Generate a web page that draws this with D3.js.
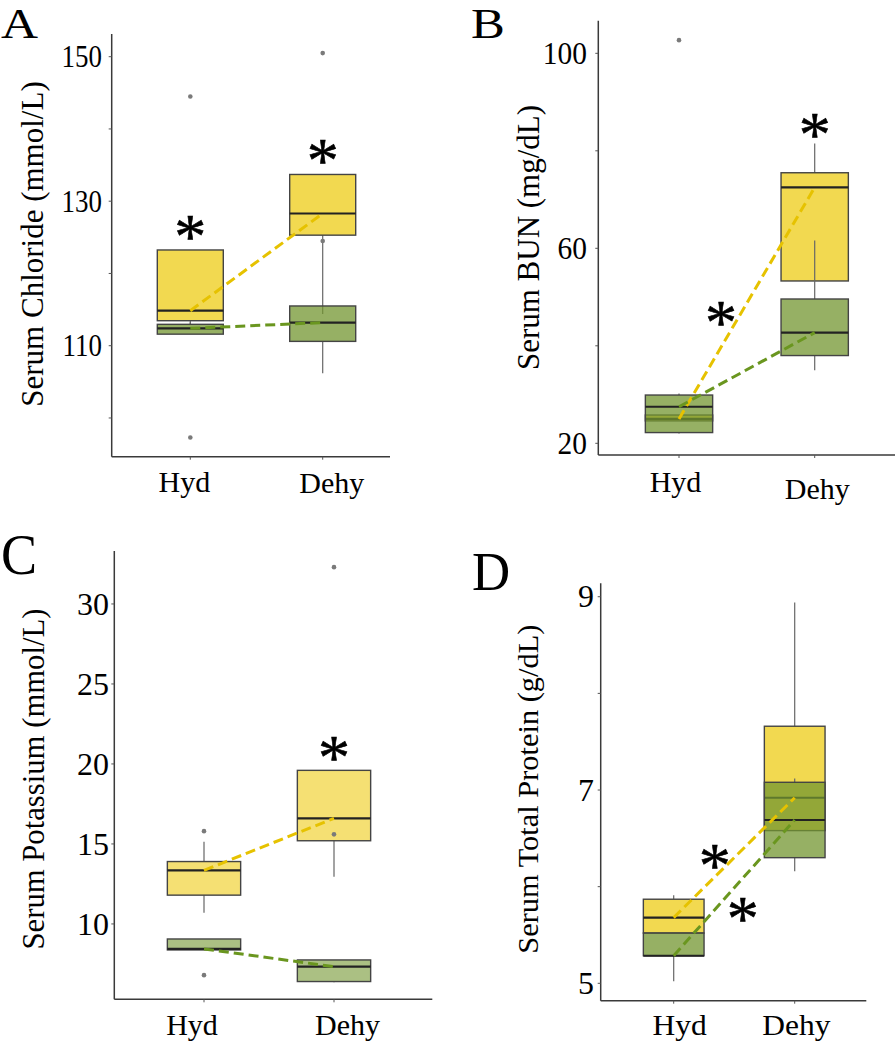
<!DOCTYPE html>
<html><head><meta charset="utf-8">
<script src="https://cdn.jsdelivr.net/npm/d3@7"></script>
<style>
body{margin:0;background:#fff}
svg{display:block}
text{font-family:"Liberation Serif","Times New Roman",serif;fill:#000}
</style>
</head><body>
<svg id="chart" width="896" height="1050"></svg>
<script>
const groups = ["Hyd", "Dehy"];

// ---- Panel A: Serum Chloride (mmol/L) ---- stats: [lo, q1, median, q3, hi]
const chlorideTicks = [100, 110, 120, 130, 140, 150];
const chlorideTickLabels = [110, 130, 150];
const chlorideYellow = [[113.0, 113.46, 114.85, 123.25, 123.25], [114.4, 125.3, 128.3, 133.7, 133.7]];
const chlorideGreen  = [[111.6, 111.6, 112.4, 112.96, 113.2], [106.2, 110.6, 113.2, 115.5, 115.5]];
const chlorideOutliers = [["Hyd", 144.5], ["Hyd", 97.3], ["Dehy", 150.5], ["Dehy", 124.5]];
const chlorideStars = [[0, 126.5], [1, 137.1]];

// ---- Panel B: Serum BUN (mg/dL) ----
const bunTicks = [20, 40, 60, 80, 100];
const bunTickLabels = [20, 60, 100];
const bunYellow = [[24.6, 24.6, 25.0, 25.8, 25.8], [53.3, 53.3, 72.5, 75.5, 81.5]];
const bunGreen  = [[22.0, 22.2, 27.5, 29.9, 30.2], [35.0, 38.0, 42.7, 49.6, 61.6]];
const bunOutliers = [["Hyd", 102.7]];
const bunStars = [[0.31, 47.0], [1, 85.6]];

// ---- Panel C: Serum Potassium (mmol/L) ----
const potassiumTicks = [10, 15, 20, 25, 30];
const potassiumTickLabels = [10, 15, 20, 25, 30];
const potassiumYellow = [[10.7, 11.8, 13.35, 13.9, 15.13], [12.95, 15.2, 16.6, 19.6, 19.6]];
const potassiumGreen  = [[8.375, 8.375, 8.44, 9.06, 9.06], [6.35, 6.4, 7.33, 7.75, 7.75]];
const potassiumOutliers = [["Hyd", 15.8], ["Hyd", 6.8], ["Dehy", 32.3], ["Dehy", 15.6]];
const potassiumStars = [[1, 21.08]];

// ---- Panel D: Serum Total Protein (g/dL) ----
const proteinTicks = [5, 6, 7, 8, 9];
const proteinTickLabels = [5, 7, 9];
const proteinYellow = [[5.52, 5.52, 5.68, 5.87, 5.91], [6.58, 6.58, 6.92, 7.66, 8.94]];
const proteinGreen  = [[5.02, 5.285, 5.285, 5.52, 5.52], [6.16, 6.30, 6.69, 7.08, 7.12]];
const proteinOutliers = [];
const proteinStars = [[0.34, 6.33], [0.57, 5.78]];

const YELLOW = "#EECC16", GREEN = "#739630";
const YLINE = "#E6C200", GLINE = "#6A961F";

const svg = d3.select("#chart");

function stext(g, x, y, str, fs, sx, anchor, rot) {
  return g.append("text")
    .attr("transform", `translate(${x},${y})` + (rot ? ` rotate(${rot})` : "") + ` scale(${sx},1)`)
    .attr("text-anchor", anchor)
    .style("font-size", fs + "px")
    .text(str);
}

function panel(cfg, d) {
  const g = svg.append("g");
  const y = d3.scaleLinear().domain(cfg.domain).range([cfg.bottom, cfg.top]);
  const x = d3.scalePoint().domain(groups).range([cfg.xHyd, cfg.xDehy]);
  const xi = d3.scaleLinear().domain([0, 1]).range([cfg.xHyd, cfg.xDehy]);
  const bw = cfg.boxW;

  // axes lines
  g.append("line").attr("x1", cfg.left).attr("x2", cfg.left).attr("y1", cfg.top).attr("y2", cfg.bottom)
    .attr("stroke", "#3a3a3a").attr("stroke-width", 1.5);
  g.append("line").attr("x1", cfg.left).attr("x2", cfg.right).attr("y1", cfg.bottom).attr("y2", cfg.bottom)
    .attr("stroke", "#3a3a3a").attr("stroke-width", 1.5);
  // y ticks
  d.ticks.forEach(t => {
    g.append("line").attr("x1", cfg.left - 3).attr("x2", cfg.left).attr("y1", y(t)).attr("y2", y(t))
      .attr("stroke", "#555").attr("stroke-width", 1);
  });
  d.tickLabels.forEach(t => {
    stext(g, cfg.tickRight, y(t) + 0.345 * cfg.tickFs, String(t), cfg.tickFs, cfg.tickSx, "end");
  });
  // x ticks
  groups.forEach(c => {
    g.append("line").attr("x1", x(c)).attr("x2", x(c)).attr("y1", cfg.bottom).attr("y2", cfg.bottom + 3)
      .attr("stroke", "#555").attr("stroke-width", 1);
  });
  groups.forEach((c, i) => {
    stext(g, x(c) + cfg.xlabDx[i], cfg.xlabY[i], c, cfg.xlabFs, cfg.xlabSx, "middle");
  });
  // y title
  stext(g, cfg.titleX, cfg.titleY, cfg.title, cfg.titleFs, 1, "middle", -90);
  // panel letter
  stext(g, cfg.letterX, cfg.letterY, cfg.letter, cfg.letterFs, cfg.letterSx, "start");

  // boxes
  function drawBoxes(stats, color) {
    stats.forEach((s, i) => {
      const cx = x(groups[i]);
      const [lo, q1, med, q3, hi] = s;
      g.append("line").attr("x1", cx).attr("x2", cx).attr("y1", y(lo)).attr("y2", y(q1))
        .attr("stroke", "#666").attr("stroke-width", 1.2);
      g.append("line").attr("x1", cx).attr("x2", cx).attr("y1", y(q3)).attr("y2", y(hi))
        .attr("stroke", "#666").attr("stroke-width", 1.2);
      g.append("rect").attr("x", cx - bw / 2).attr("width", bw)
        .attr("y", y(q3)).attr("height", Math.max(0.5, y(q1) - y(q3)))
        .attr("fill", color).attr("fill-opacity", cfg.alpha)
        .attr("stroke", "#444").attr("stroke-width", 1.4);
      g.append("line").attr("x1", cx - bw / 2).attr("x2", cx + bw / 2).attr("y1", y(med)).attr("y2", y(med))
        .attr("stroke", "#222").attr("stroke-width", 2.2);
    });
  }
  drawBoxes(d.yellow, YELLOW);
  drawBoxes(d.green, GREEN);

  // outliers
  d.outliers.forEach(o => {
    g.append("circle").attr("cx", x(o[0])).attr("cy", y(o[1])).attr("r", 2.3).attr("fill", "#7a7a7a");
  });

  // dashed median lines
  const line = d3.line().x((v, i) => x(groups[i])).y(v => y(v));
  g.append("path").attr("d", line(d.yellow.map(s => s[2]))).attr("fill", "none")
    .attr("stroke", YLINE).attr("stroke-width", 3).attr("stroke-dasharray", "10,5");
  g.append("path").attr("d", line(d.green.map(s => s[2]))).attr("fill", "none")
    .attr("stroke", GLINE).attr("stroke-width", 3).attr("stroke-dasharray", "10,5");

  // significance stars
  d.stars.forEach(s => {
    g.append("text").attr("x", xi(s[0])).attr("y", y(s[1]) + 0.5 * cfg.starFs)
      .attr("text-anchor", "middle").style("font-size", cfg.starFs + "px")
      .style("stroke", "#000").style("stroke-width", 0.6).text("*");
  });
}

panel({
  left: 111.7, right: 390, top: 34, bottom: 456.7, xHyd: 190.3, xDehy: 322.7, domain: [94.64, 153.14], boxW: 66,
  alpha: 0.75, tickRight: 102, tickFs: 30.6, tickSx: 0.88,
  xlabDx: [-6, 9], xlabY: [491.7, 492.7], xlabFs: 30, xlabSx: 1,
  title: "Serum Chloride (mmol/L)", titleX: 43, titleY: 244, titleFs: 31,
  letter: "A", letterX: 1, letterY: 37.7, letterFs: 42, letterSx: 1.22, starFs: 64
}, { ticks: chlorideTicks, tickLabels: chlorideTickLabels, yellow: chlorideYellow, green: chlorideGreen,
     outliers: chlorideOutliers, stars: chlorideStars });

panel({
  left: 598.3, right: 895, top: 20.7, bottom: 455, xHyd: 679, xDehy: 814.7, domain: [17.6, 106.69], boxW: 67.3,
  alpha: 0.75, tickRight: 587, tickFs: 32, tickSx: 0.92,
  xlabDx: [-3.5, 2.5], xlabY: [491.7, 498.5], xlabFs: 30, xlabSx: 1,
  title: "Serum BUN (mg/dL)", titleX: 538.6, titleY: 237.5, titleFs: 31,
  letter: "B", letterX: 471, letterY: 38.3, letterFs: 43, letterSx: 1.18, starFs: 64
}, { ticks: bunTicks, tickLabels: bunTickLabels, yellow: bunYellow, green: bunGreen,
     outliers: bunOutliers, stars: bunStars });

panel({
  left: 114.3, right: 432.3, top: 551, bottom: 999.3, xHyd: 204, xDehy: 334, domain: [5.29, 33.31], boxW: 73.3,
  alpha: 0.6, tickRight: 109, tickFs: 32, tickSx: 1.0,
  xlabDx: [-12, 13.5], xlabY: [1035, 1035], xlabFs: 30, xlabSx: 1,
  title: "Serum Potassium (mmol/L)", titleX: 44, titleY: 779, titleFs: 30.7,
  letter: "C", letterX: 1, letterY: 574, letterFs: 57, letterSx: 0.95, starFs: 64
}, { ticks: potassiumTicks, tickLabels: potassiumTickLabels, yellow: potassiumYellow, green: potassiumGreen,
     outliers: potassiumOutliers, stars: potassiumStars });

panel({
  left: 600.7, right: 866.3, top: 583.3, bottom: 1000.7, xHyd: 673.7, xDehy: 794.7, domain: [4.82, 9.139], boxW: 60.7,
  alpha: 0.75, tickRight: 594, tickFs: 31, tickSx: 1.03,
  xlabDx: [6, 1.6], xlabY: [1035, 1035], xlabFs: 30, xlabSx: 1.05,
  title: "Serum Total Protein (g/dL)", titleX: 537.7, titleY: 789.2, titleFs: 30.4,
  letter: "D", letterX: 472, letterY: 590, letterFs: 55, letterSx: 0.96, starFs: 64
}, { ticks: proteinTicks, tickLabels: proteinTickLabels, yellow: proteinYellow, green: proteinGreen,
     outliers: proteinOutliers, stars: proteinStars });
</script>
</body></html>
